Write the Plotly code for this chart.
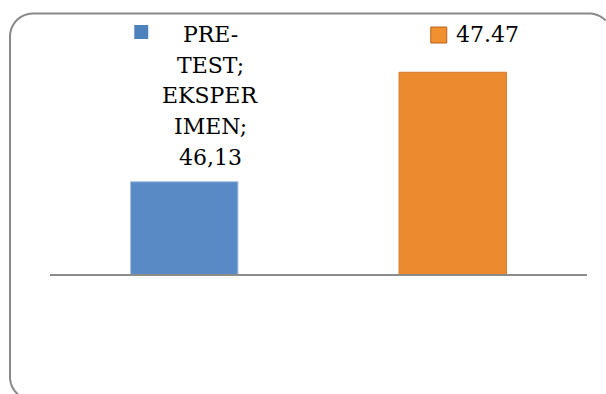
import numpy as np
import plotly.graph_objects as go

# ---- data ----
categories = ["PRE-TEST; EKSPERIMEN", "POST-TEST; EKSPERIMEN"]
values = [46.13, 47.47]
label_lines_pre = ["PRE-", "TEST;", "EKSPER", "IMEN;", "46,13"]
label_post = "47.47"
bar_colors = ["#5a8ac6", "#ec8a2f"]
key_colors = ["#4f81bd", "#f0902f"]

W, H = 606, 394
L, R, T, B = 50, 19, 29, 120
Y0, Y1 = 45, 48
plot_w = W - L - R
plot_h = H - T - B


def px_x(x):
    return (x - L) / plot_w


def px_y(y):
    return (H - B - y) / plot_h


fig = go.Figure()
fig.add_trace(go.Bar(
    x=categories, y=values,
    width=0.4,
    marker=dict(color=bar_colors, line=dict(color=["#a7c1e4", "#d9782a"], width=1),
                cornerradius=[0, 5]),
    showlegend=False, hoverinfo="skip",
))

# rounded chart border: visible part (left side, top, corners)
left, top, bottom, rad = 10, 13.5, 400, 23
pts = []
def arc(cx, cy, a0, a1, r):
    for a in np.linspace(a0, a1, 12):
        pts.append((cx + r * np.cos(a), cy + r * np.sin(a)))
pts.append((left + rad + 8, 430))
arc(left + rad, bottom - rad, 0.5 * np.pi, np.pi, rad)
arc(left + rad, top + rad, np.pi, 1.5 * np.pi, rad)
arc(589, top + rad, 1.5 * np.pi, 1.5 * np.pi + 0.8, rad)
path = "M " + " L ".join(f"{px_x(x):.5f},{px_y(y):.5f}" for x, y in pts)

shapes = [dict(type="path", xref="paper", yref="paper", path=path,
               line=dict(color="#898989", width=2), layer="below")]

# legend keys in data labels
shapes.append(dict(type="rect", xref="x", yref="paper", xsizemode="pixel", ysizemode="pixel",
                   xanchor=0, yanchor=1, x0=-50, x1=-36, y0=-10, y1=4,
                   fillcolor=key_colors[0], line=dict(width=0)))
shapes.append(dict(type="rect", xref="x", yref="paper", xsizemode="pixel", ysizemode="pixel",
                   xanchor=1, yanchor=1, x0=-22, x1=-6, y0=-14, y1=2,
                   fillcolor=key_colors[1], line=dict(color="#b9621c", width=1)))

font = dict(family="DejaVu Serif", size=22, color="#000000")
annotations = []
for i, line in enumerate(label_lines_pre):
    cy = 35 + 30.5 * i
    annotations.append(dict(x=0, xref="x", xshift=26, y=px_y(cy), yref="paper",
                            text=line, showarrow=False, xanchor="center", yanchor="middle",
                            font=font))
annotations.append(dict(x=1, xref="x", xshift=35, y=px_y(34), yref="paper",
                        text=label_post, showarrow=False, xanchor="center", yanchor="middle",
                        font=font))

fig.update_layout(
    width=W, height=H,
    margin=dict(l=L, r=R, t=T, b=B, pad=0),
    paper_bgcolor="white", plot_bgcolor="white",
    font=dict(family="DejaVu Serif"),
    shapes=shapes, annotations=annotations,
    xaxis=dict(showticklabels=False, ticks="", showgrid=False, zeroline=False,
               showline=True, linecolor="#8c8c8c", linewidth=2),
    yaxis=dict(range=[Y0, Y1], visible=False, showgrid=False),
    bargap=0.6,
)

fig.write_html("out.html")
